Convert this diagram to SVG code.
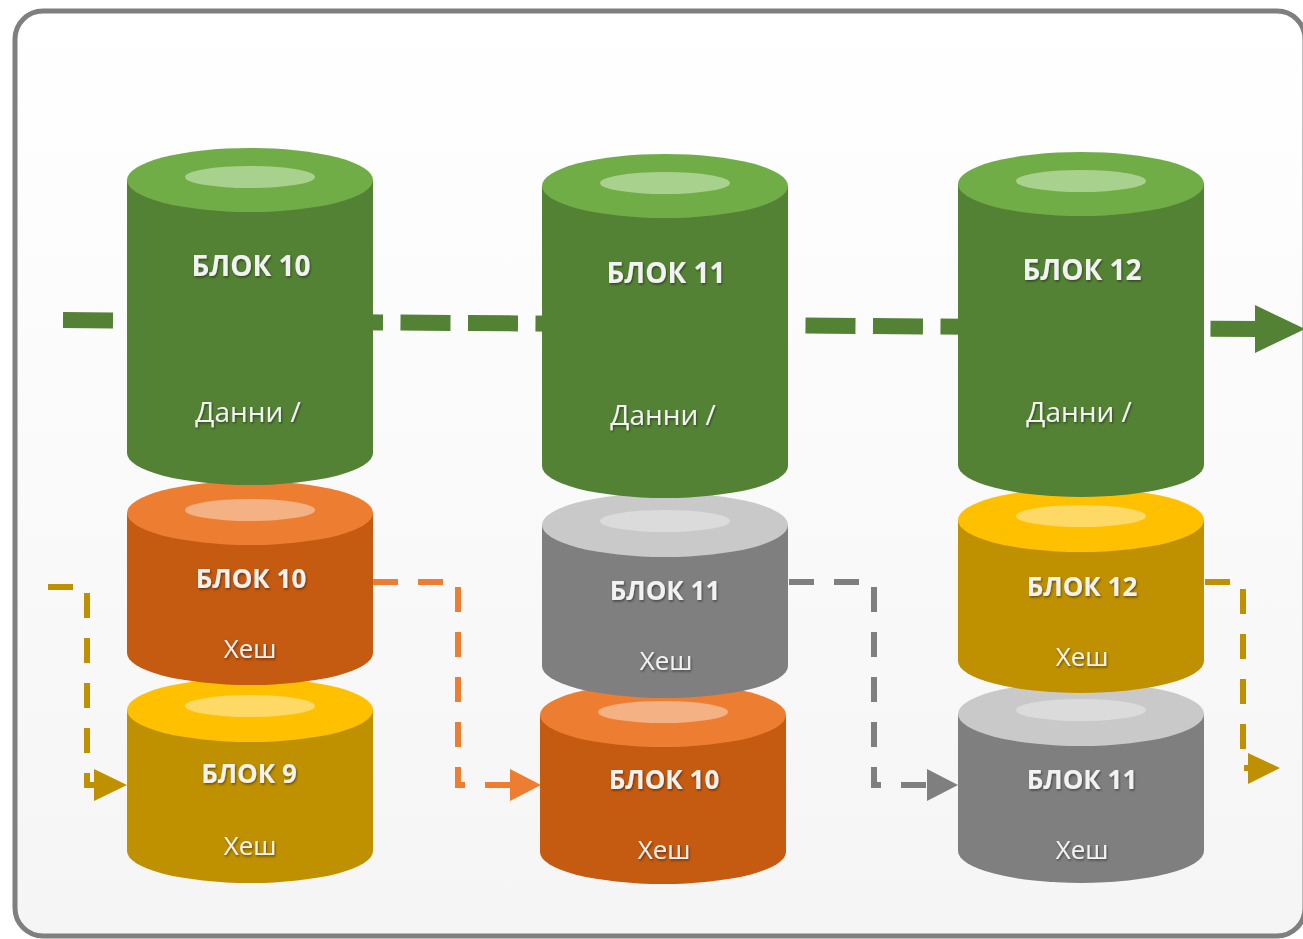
<svg xmlns="http://www.w3.org/2000/svg" width="1303" height="939" viewBox="0 0 1303 939">
<defs>
<linearGradient id="bg" x1="0" y1="0" x2="0" y2="1">
<stop offset="0" stop-color="#ffffff"/>
<stop offset="1" stop-color="#f5f5f5"/>
</linearGradient>
<filter id="ts" x="-20%" y="-40%" width="140%" height="180%">
<feDropShadow dx="1" dy="1.5" stdDeviation="1" flood-color="#000" flood-opacity="0.45"/>
</filter>
</defs>
<style>
.t{font-family:"Open Sans","Noto Sans","Liberation Sans",sans-serif;fill:#f2f2f2;text-anchor:middle;filter:url(#ts)}
.big{font-size:28px;font-weight:bold}
.mid{font-size:26px;font-weight:bold}
.reg{font-size:28px}
.sm{font-size:26px}
.gB{fill:#548235}.gT{fill:#70ad47}.gH{fill:#a9d18e}
.oB{fill:#c55a11}.oT{fill:#ed7d31}.oH{fill:#f4b183}
.yB{fill:#bf9000}.yT{fill:#ffc000}.yH{fill:#ffd966}
.rB{fill:#7f7f7f}.rT{fill:#c9c9c9}.rH{fill:#dbdbdb}
.dash{fill:none;stroke-dasharray:25 20}
</style>
<rect x="0" y="0" width="1303" height="939" fill="#ffffff"/>
<rect x="15" y="11" width="1290" height="925" rx="28" fill="url(#bg)" stroke="#7f7f7f" stroke-width="5"/>

<g id="connectors">
<path d="M63,320 L1258,329" stroke="#548235" stroke-width="16" stroke-dasharray="50 17.5" fill="none"/>
<polygon points="1255,305 1305,329 1255,353" fill="#548235"/>
<path class="dash" d="M48,587 H87 V785 H100" stroke="#bf9000" stroke-width="6"/>
<polygon points="94,769 127,785 94,801" fill="#bf9000"/>
<path class="dash" d="M373,582 H458 V785 H512" stroke="#ed7d31" stroke-width="6"/>
<polygon points="510,769 541,785 510,801" fill="#ed7d31"/>
<path class="dash" d="M789,582 H874 V785 H929" stroke="#7f7f7f" stroke-width="6"/>
<polygon points="927,769 958,785 927,801" fill="#7f7f7f"/>
<path class="dash" d="M1205,582 H1243 V768 H1250" stroke="#bf9000" stroke-width="6"/>
<polygon points="1248,753 1280,768 1248,784" fill="#bf9000"/>
</g>

<g id="block9-hash">
<path class="yB" d="M127,710 V851 A123,32 0 0 0 373,851 V710 Z"/>
<ellipse class="yT" cx="250" cy="710" rx="123" ry="32"/>
<ellipse class="yH" cx="250" cy="706" rx="65" ry="11"/>
<text class="t mid" x="249" y="783">БЛОК 9</text>
<text class="t sm" x="250" y="855">Хеш</text>
</g>
<g id="block10-hash">
<path class="oB" d="M127,513 V653 A123,32 0 0 0 373,653 V513 Z"/>
<ellipse class="oT" cx="250" cy="513" rx="123" ry="32"/>
<ellipse class="oH" cx="250" cy="510" rx="65" ry="11"/>
<text class="t mid" x="251" y="588">БЛОК 10</text>
<text class="t sm" x="250" y="658">Хеш</text>
</g>
<g id="block10-data">
<path class="gB" d="M127,180 V453 A123,32 0 0 0 373,453 V180 Z"/>
<ellipse class="gT" cx="250" cy="180" rx="123" ry="32"/>
<ellipse class="gH" cx="250" cy="177" rx="65" ry="11"/>
<text class="t big" x="251" y="276">БЛОК 10</text>
<text class="t reg" x="248" y="422">Данни /</text>
</g>

<g id="block10-hash-b">
<path class="oB" d="M540,715 V852 A123,32 0 0 0 786,852 V715 Z"/>
<ellipse class="oT" cx="663" cy="715" rx="123" ry="32"/>
<ellipse class="oH" cx="663" cy="712" rx="65" ry="11"/>
<text class="t mid" x="664" y="789">БЛОК 10</text>
<text class="t sm" x="664" y="859">Хеш</text>
</g>
<g id="block11-hash">
<path class="rB" d="M542,525 V666 A123,32 0 0 0 788,666 V525 Z"/>
<ellipse class="rT" cx="665" cy="525" rx="123" ry="32"/>
<ellipse class="rH" cx="665" cy="521" rx="65" ry="11"/>
<text class="t mid" x="665" y="600">БЛОК 11</text>
<text class="t sm" x="666" y="670">Хеш</text>
</g>
<g id="block11-data">
<path class="gB" d="M542,186 V466 A123,32 0 0 0 788,466 V186 Z"/>
<ellipse class="gT" cx="665" cy="186" rx="123" ry="32"/>
<ellipse class="gH" cx="665" cy="183" rx="65" ry="11"/>
<text class="t big" x="666" y="283">БЛОК 11</text>
<text class="t reg" x="663" y="425">Данни /</text>
</g>

<g id="block11-hash-b">
<path class="rB" d="M958,714 V851 A123,32 0 0 0 1204,851 V714 Z"/>
<ellipse class="rT" cx="1081" cy="714" rx="123" ry="32"/>
<ellipse class="rH" cx="1081" cy="710" rx="65" ry="11"/>
<text class="t mid" x="1082" y="789">БЛОК 11</text>
<text class="t sm" x="1082" y="859">Хеш</text>
</g>
<g id="block12-hash">
<path class="yB" d="M958,520 V661 A123,32 0 0 0 1204,661 V520 Z"/>
<ellipse class="yT" cx="1081" cy="520" rx="123" ry="32"/>
<ellipse class="yH" cx="1081" cy="516" rx="65" ry="11"/>
<text class="t mid" x="1082" y="596">БЛОК 12</text>
<text class="t sm" x="1082" y="666">Хеш</text>
</g>
<g id="block12-data">
<path class="gB" d="M958,184 V465 A123,32 0 0 0 1204,465 V184 Z"/>
<ellipse class="gT" cx="1081" cy="184" rx="123" ry="32"/>
<ellipse class="gH" cx="1081" cy="181" rx="65" ry="11"/>
<text class="t big" x="1082" y="280">БЛОК 12</text>
<text class="t reg" x="1079" y="422">Данни /</text>
</g>
</svg>
